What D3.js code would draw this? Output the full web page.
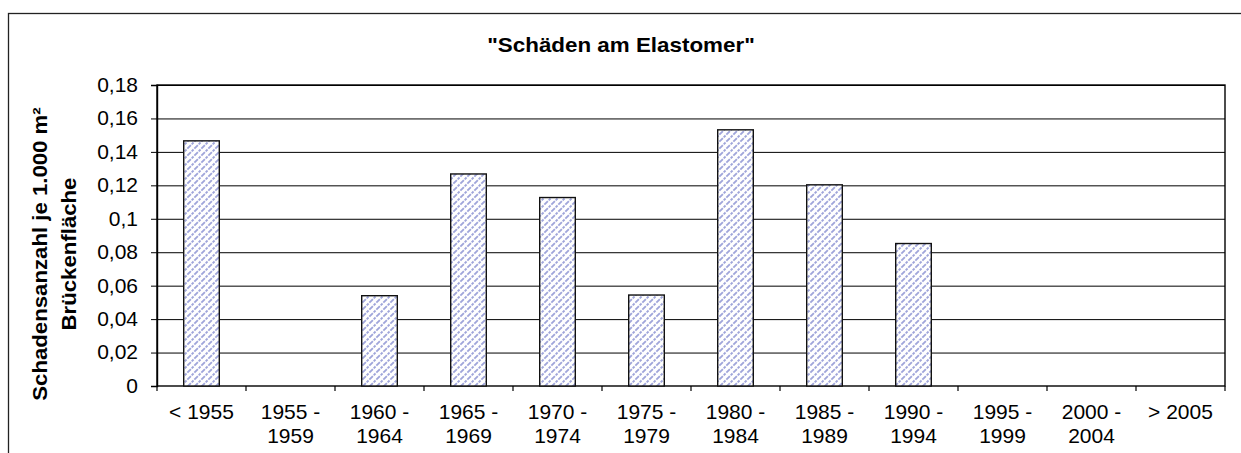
<!DOCTYPE html>
<html>
<head>
<meta charset="utf-8">
<script src="https://cdn.jsdelivr.net/npm/d3@7"></script>
<style>
  body { margin: 0; background: white; }
  svg { display: block; font-family: "Liberation Sans", Arial, sans-serif; }
</style>
</head>
<body>
<svg width="1241" height="453"></svg>
<script>
// data
var categories = ["< 1955", "1955 - 1959", "1960 - 1964", "1965 - 1969", "1970 - 1974", "1975 - 1979",
                  "1980 - 1984", "1985 - 1989", "1990 - 1994", "1995 - 1999", "2000 - 2004", "> 2005"];
var labelLine1 = ["< 1955", "1955 -", "1960 -", "1965 -", "1970 -", "1975 -",
                  "1980 -", "1985 -", "1990 -", "1995 -", "2000 -", "> 2005"];
var labelLine2 = ["", "1959", "1964", "1969", "1974", "1979",
                  "1984", "1989", "1994", "1999", "2004", ""];
var values = [0.1466, null, 0.0540, 0.1268, 0.1127, 0.0544, 0.1532, 0.1203, 0.0852, null, null, null];
var yTicks = [0, 0.02, 0.04, 0.06, 0.08, 0.1, 0.12, 0.14, 0.16, 0.18];
var yTickLabels = ["0", "0,02", "0,04", "0,06", "0,08", "0,1", "0,12", "0,14", "0,16", "0,18"];
var TITLE = "\"Schäden am Elastomer\"";
var Y_TITLE_1 = "Schadensanzahl je 1.000 m²";
var Y_TITLE_2 = "Brückenfläche";

var PLOT = {left: 157, top: 85, right: 1225, bottom: 386},
    LINE_COLOR = "#000",
    HATCH_COLOR = "#9fa5da",
    FONT_SIZE = "20px",
    WIDE = 1.05,       // reference glyphs are a bit wider than Arial
    WIDE_BOLD = 1.11;

var svg = d3.select("svg");

var x = d3.scaleBand()
    .domain(categories)
    .range([PLOT.left, PLOT.right])
    .paddingInner(0.6)
    .paddingOuter(0.3);
var xEdges = d3.scaleBand()
    .domain(categories)
    .range([PLOT.left, PLOT.right]);
var y = d3.scaleLinear()
    .domain([0, 0.18])
    .range([PLOT.bottom, PLOT.top]);

// outer chart frame (cut off right and bottom)
svg.append("rect")
    .attr("x", 8.5)
    .attr("y", 13.5)
    .attr("width", 1400)
    .attr("height", 600)
    .style("fill", "none")
    .style("stroke", "#222")
    .style("stroke-width", 1.3);

var defs = svg.append("defs");
var pat = defs.append("pattern")
    .attr("id", "hatch")
    .attr("patternUnits", "userSpaceOnUse")
    .attr("width", 7)
    .attr("height", 7);
pat.append("rect")
    .attr("width", 7)
    .attr("height", 7)
    .style("fill", "white");
pat.append("path")
    .attr("d", "M0,7 L7,0 M-1,1 L1,-1 M6,8 L8,6")
    .style("stroke", HATCH_COLOR)
    .style("stroke-width", 1.9)
    .style("stroke-dasharray", "2.6,1.2");

// gridlines
svg.append("g")
    .attr("class", "grid")
    .attr("transform", "translate(" + PLOT.left + ",0)")
    .call(d3.axisLeft(y)
        .tickValues(yTicks.slice(1))
        .tickSize(-(PLOT.right - PLOT.left))
        .tickFormat(""))
    .call(function(g) { g.select(".domain").remove(); })
    .selectAll("line")
    .style("stroke", LINE_COLOR)
    .style("stroke-width", 1);

// plot frame
svg.append("rect")
    .attr("x", PLOT.left)
    .attr("y", PLOT.top)
    .attr("width", PLOT.right - PLOT.left)
    .attr("height", PLOT.bottom - PLOT.top)
    .style("fill", "none")
    .style("stroke", LINE_COLOR)
    .style("stroke-width", 1.4);

// bars
svg.append("g")
    .selectAll("rect")
    .data(values.map(function(v, i) { return {cat: categories[i], v: v}; })
        .filter(function(d) { return d.v != null; }))
    .enter().append("rect")
    .attr("x", function(d) { return x(d.cat); })
    .attr("y", function(d) { return y(d.v); })
    .attr("width", x.bandwidth())
    .attr("height", function(d) { return y(0) - y(d.v); })
    .style("fill", "url(#hatch)")
    .style("stroke", "#111")
    .style("stroke-width", 1.4);

// y axis
var yAxis = svg.append("g")
    .attr("transform", "translate(" + PLOT.left + ",0)")
    .call(d3.axisLeft(y)
        .tickValues(yTicks)
        .tickSize(6)
        .tickPadding(13)
        .tickFormat(function(d, i) { return yTickLabels[i]; }));
yAxis.select(".domain").style("stroke", LINE_COLOR).style("stroke-width", 1.4);
yAxis.selectAll("line").style("stroke", LINE_COLOR);
yAxis.selectAll("text")
    .attr("x", -19 / WIDE)
    .attr("transform", "scale(" + WIDE + ",1)")
    .style("font-family", "Liberation Sans, Arial, sans-serif")
    .style("font-size", FONT_SIZE)
    .style("fill", "#000");

// x axis ticks at category boundaries
var edges = categories.map(function(c) { return xEdges(c); }).concat([PLOT.right]);
svg.append("g")
    .selectAll("line")
    .data(edges)
    .enter().append("line")
    .attr("x1", function(d) { return d; })
    .attr("x2", function(d) { return d; })
    .attr("y1", PLOT.bottom)
    .attr("y2", PLOT.bottom + 5)
    .style("stroke", LINE_COLOR)
    .style("stroke-width", 1.2);

var xl = svg.append("g")
    .selectAll("text")
    .data(categories)
    .enter().append("text")
    .attr("transform", function(d) {
        return "translate(" + (xEdges(d) + xEdges.bandwidth() / 2) + ",419) scale(" + WIDE + ",1)";
    })
    .style("font-size", FONT_SIZE)
    .style("text-anchor", "middle")
    .style("fill", "#000");
xl.append("tspan")
    .attr("x", 0)
    .text(function(d, i) { return labelLine1[i]; });
xl.append("tspan")
    .attr("x", 0)
    .attr("dy", 24)
    .text(function(d, i) { return labelLine2[i]; });

// title
svg.append("text")
    .attr("transform", "translate(621,52) scale(" + (WIDE_BOLD + 0.01) + ",1)")
    .style("font-size", FONT_SIZE)
    .style("font-weight", "bold")
    .style("text-anchor", "middle")
    .text(TITLE);

// y axis title
var yTitle = svg.append("text")
    .attr("transform", "translate(47,254) rotate(-90) scale(" + WIDE_BOLD + ",1)")
    .style("font-size", FONT_SIZE)
    .style("font-weight", "bold")
    .style("text-anchor", "middle");
yTitle.append("tspan")
    .attr("x", 0)
    .text(Y_TITLE_1);
yTitle.append("tspan")
    .attr("x", 0)
    .attr("dy", 29)
    .text(Y_TITLE_2);
</script>
</body>
</html>
